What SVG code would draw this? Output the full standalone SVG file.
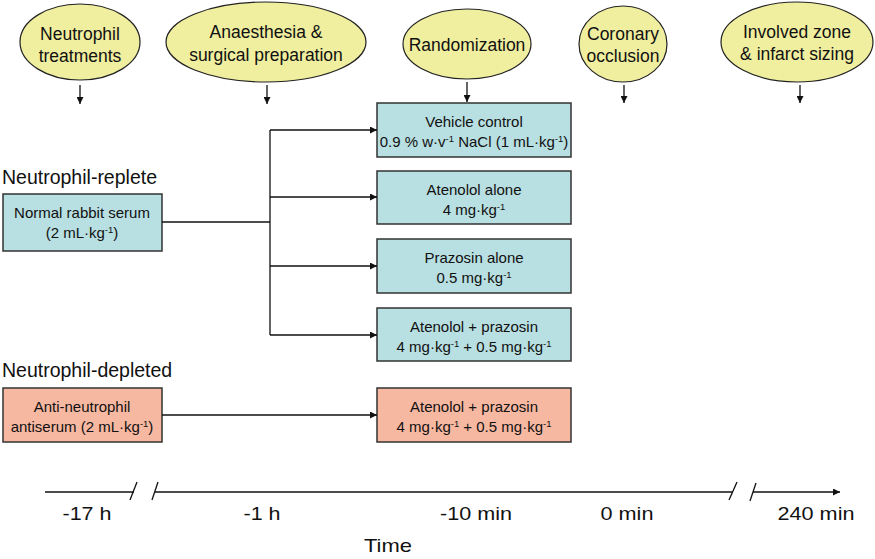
<svg xmlns="http://www.w3.org/2000/svg" width="875" height="559" viewBox="0 0 875 559">
<style>
text{font-family:"Liberation Sans",Arial,sans-serif;fill:#111}
.el{fill:#f0ee9f;stroke:#222;stroke-width:1.2}
.bx{fill:#b8dfe1;stroke:#333;stroke-width:1.5}
.rd{fill:#f7b8a2;stroke:#333;stroke-width:1.5}
.et{font-size:17.5px;text-anchor:middle}
.bt{font-size:15px;text-anchor:middle}
.gt{font-size:19.5px}
.tl{font-size:18.5px;text-anchor:middle}
.ln{stroke:#111;stroke-width:1.3;fill:none}
.sup{font-size:9.5px}
</style>
<defs>
<marker id="ah" viewBox="0 0 10 10" refX="10" refY="5" markerWidth="7" markerHeight="7" markerUnits="userSpaceOnUse" orient="auto">
<path d="M0,0 L10,5 L0,10 z" fill="#111"/>
</marker>
</defs>
<rect width="875" height="559" fill="#fff"/>

<g id="e1"><ellipse class="el" cx="80" cy="42" rx="60" ry="38"/><text class="et" x="80" y="40">Neutrophil</text><text class="et" x="80" y="62">treatments</text></g>
<g id="e2"><ellipse class="el" cx="266" cy="42" rx="100" ry="40"/><text class="et" x="266" y="38">Anaesthesia &amp;</text><text class="et" x="266" y="61">surgical preparation</text></g>
<g id="e3"><ellipse class="el" cx="467" cy="44" rx="64" ry="35"/><text class="et" x="467" y="51">Randomization</text></g>
<g id="e4"><ellipse class="el" cx="623" cy="44" rx="44" ry="38"/><text class="et" x="623" y="40">Coronary</text><text class="et" x="623" y="62">occlusion</text></g>
<g id="e5"><ellipse class="el" cx="797" cy="42" rx="76" ry="40"/><text class="et" x="797" y="38">Involved zone</text><text class="et" x="797" y="60">&amp; infarct sizing</text></g>

<text class="gt" x="2" y="184">Neutrophil-replete</text>
<text class="gt" x="2" y="377">Neutrophil-depleted</text>

<g id="nrs"><rect class="bx" x="3" y="194" width="159" height="57"/><text class="bt" x="82" y="218">Normal rabbit serum</text><text class="bt" x="82" y="238">(2 mL·kg<tspan class="sup" baseline-shift="super">-1</tspan>)</text></g>
<g id="ans"><rect class="rd" x="3" y="388" width="159" height="54"/><text class="bt" x="82" y="412">Anti-neutrophil</text><text class="bt" x="82" y="432">antiserum (2 mL·kg<tspan class="sup" baseline-shift="super">-1</tspan>)</text></g>

<g id="b1"><rect class="bx" x="377" y="103" width="194" height="54"/><text class="bt" x="474" y="127">Vehicle control</text><text class="bt" x="474" y="147">0.9 % w·v<tspan class="sup" baseline-shift="super">-1</tspan> NaCl (1 mL·kg<tspan class="sup" baseline-shift="super">-1</tspan>)</text></g>
<g id="b2"><rect class="bx" x="377" y="171" width="194" height="53"/><text class="bt" x="474" y="195">Atenolol alone</text><text class="bt" x="474" y="215">4 mg·kg<tspan class="sup" baseline-shift="super">-1</tspan></text></g>
<g id="b3"><rect class="bx" x="377" y="239" width="194" height="54"/><text class="bt" x="474" y="263">Prazosin alone</text><text class="bt" x="474" y="283">0.5 mg·kg<tspan class="sup" baseline-shift="super">-1</tspan></text></g>
<g id="b4"><rect class="bx" x="377" y="308" width="194" height="53"/><text class="bt" x="474" y="332">Atenolol + prazosin</text><text class="bt" x="474" y="352">4 mg·kg<tspan class="sup" baseline-shift="super">-1</tspan> + 0.5 mg·kg<tspan class="sup" baseline-shift="super">-1</tspan></text></g>
<g id="b5"><rect class="rd" x="377" y="388" width="194" height="54"/><text class="bt" x="474" y="412">Atenolol + prazosin</text><text class="bt" x="474" y="432">4 mg·kg<tspan class="sup" baseline-shift="super">-1</tspan> + 0.5 mg·kg<tspan class="sup" baseline-shift="super">-1</tspan></text></g>

<g id="connectors">
<line class="ln" x1="80" y1="85" x2="80" y2="104" marker-end="url(#ah)"/>
<line class="ln" x1="267" y1="85" x2="267" y2="104" marker-end="url(#ah)"/>
<line class="ln" x1="467" y1="82" x2="467" y2="102" marker-end="url(#ah)"/>
<line class="ln" x1="624" y1="85" x2="624" y2="103" marker-end="url(#ah)"/>
<line class="ln" x1="800" y1="85" x2="800" y2="103" marker-end="url(#ah)"/>
<line class="ln" x1="162" y1="222" x2="270" y2="222"/>
<line class="ln" x1="270" y1="130" x2="270" y2="335"/>
<line class="ln" x1="270" y1="130" x2="377" y2="130" marker-end="url(#ah)"/>
<line class="ln" x1="270" y1="197" x2="377" y2="197" marker-end="url(#ah)"/>
<line class="ln" x1="270" y1="266" x2="377" y2="266" marker-end="url(#ah)"/>
<line class="ln" x1="270" y1="335" x2="377" y2="335" marker-end="url(#ah)"/>
<line class="ln" x1="162" y1="415" x2="377" y2="415" marker-end="url(#ah)"/>
</g>

<g id="timeline">
<line class="ln" x1="45" y1="492" x2="134" y2="492"/>
<line class="ln" x1="137" y1="482" x2="130" y2="500"/>
<line class="ln" x1="158" y1="482" x2="152" y2="500"/>
<line class="ln" x1="155" y1="492" x2="733" y2="492"/>
<line class="ln" x1="737" y1="482" x2="729" y2="500"/>
<line class="ln" x1="756" y1="483" x2="750" y2="501"/>
<line class="ln" x1="753" y1="492" x2="840" y2="492" marker-end="url(#ah)"/>
<text class="tl" x="87" y="520" textLength="49" lengthAdjust="spacingAndGlyphs">-17 h</text>
<text class="tl" x="262" y="520" textLength="37" lengthAdjust="spacingAndGlyphs">-1 h</text>
<text class="tl" x="476" y="520" textLength="72" lengthAdjust="spacingAndGlyphs">-10 min</text>
<text class="tl" x="627" y="520" textLength="53" lengthAdjust="spacingAndGlyphs">0 min</text>
<text class="tl" x="816" y="520" textLength="77" lengthAdjust="spacingAndGlyphs">240 min</text>
<text class="tl" x="388" y="552" textLength="48" lengthAdjust="spacingAndGlyphs">Time</text>
</g>
</svg>
